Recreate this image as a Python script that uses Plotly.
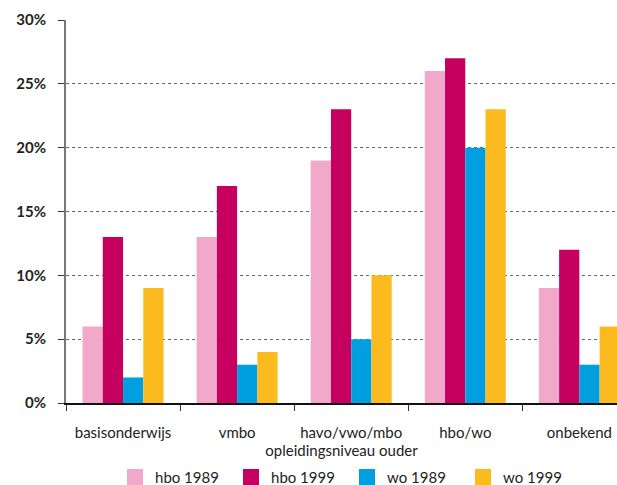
import plotly.graph_objects as go

categories = ["basisonderwijs", "vmbo", "havo/vwo/mbo", "hbo/wo", "onbekend"]
hbo_1989 = [6, 13, 19, 26, 9]
hbo_1999 = [13, 17, 23, 27, 12]
wo_1989 = [2, 3, 5, 20, 3]
wo_1999 = [9, 4, 10, 23, 6]

series = [
    ("hbo 1989", hbo_1989, "#f2a9c9"),
    ("hbo 1999", hbo_1999, "#c6005e"),
    ("wo 1989", wo_1989, "#009fe0"),
    ("wo 1999", wo_1999, "#fbbb1f"),
]

fig = go.Figure()
for name, vals, col in series:
    fig.add_trace(go.Bar(x=categories, y=vals, name=name, marker_color=col,
                         marker_line_width=0, showlegend=False, legendgroup=name))
# legend entries with larger square swatches
for name, vals, col in series:
    fig.add_trace(go.Scatter(x=[None], y=[None], mode="markers", name=name,
                             legendgroup=name,
                             marker=dict(symbol="square", size=16, color=col)))

font_family = "Lato, Open Sans, sans-serif"
fig.update_layout(
    width=617, height=485,
    margin=dict(l=66, r=0, t=20, b=82),
    paper_bgcolor="white", plot_bgcolor="white",
    barmode="group", bargap=0.29, bargroupgap=0,
    font=dict(family=font_family, size=15, color="#222"),
    showlegend=True,
    legend=dict(orientation="h", x=0.51, xanchor="center",
                yref="container", y=0.016, yanchor="middle",
                itemsizing="trace", entrywidth=71, entrywidthmode="pixels",
                font=dict(size=15, color="#222")),
    xaxis=dict(
        range=[-0.5, 4.33], showgrid=False, showline=True, linecolor="#111", linewidth=2,
        ticks="outside", tickson="boundaries", ticklen=6, tickcolor="#333",
        tickfont=dict(size=15, color="#222"), ticklabelstandoff=15,
        title=dict(text="opleidingsniveau ouder", font=dict(size=15, color="#222"), standoff=4),
    ),
    yaxis=dict(
        range=[0, 30], dtick=5, ticksuffix="%", showgrid=True, gridcolor="#666",
        griddash="dot", gridwidth=1, showline=True, linecolor="#777", linewidth=2,
        ticks="outside", ticklen=6, tickcolor="#333", zeroline=False,
        ticklabelstandoff=9,
        tickfont=dict(size=15, color="#222", weight="bold"),
    ),
)

fig.write_html("out.html", config={"displayModeBar": False},
               post_script="document.body.style.margin='0';document.body.style.overflow='hidden';")
